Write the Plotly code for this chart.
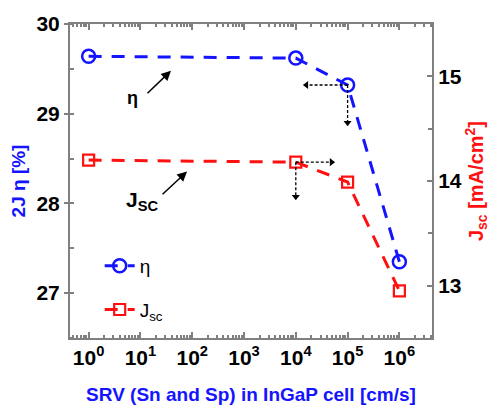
import plotly.graph_objects as go

srv = [1, 1e4, 1e5, 1e6]
eta = [29.64, 29.62, 29.32, 27.35]
jsc = [14.20, 14.18, 13.99, 12.95]
x_tickvals = [1, 10, 100, 1e3, 1e4, 1e5, 1e6]
x_ticktext = ["10<sup>0</sup>", "10<sup>1</sup>", "10<sup>2</sup>", "10<sup>3</sup>",
              "10<sup>4</sup>", "10<sup>5</sup>", "10<sup>6</sup>"]

BLUE = "#1414ff"
RED = "#ff1010"
GRAY = "#808080"
FONT = "Liberation Sans"

fig = go.Figure()
fig.add_trace(go.Scatter(x=srv, y=eta, mode="lines+markers", name="η",
                         legendgroup="a",
                         line=dict(color=BLUE, width=3, dash="13px,10px"),
                         marker=dict(symbol="circle-open", size=13, color=BLUE, line=dict(width=2.5))))
fig.add_trace(go.Scatter(x=srv, y=jsc, mode="lines+markers", name="J<sub>sc</sub>",
                         legendgroup="b", yaxis="y2",
                         line=dict(color=RED, width=3, dash="13px,10px"),
                         marker=dict(symbol="square-open", size=11, color=RED, line=dict(width=2.2))))

# dotted guide arrows
guide = dict(color="black", width=1.3, dash="3px,2px")
fig.add_trace(go.Scatter(x=[srv[2], 1.6e4], y=[eta[2], eta[2]], mode="lines", line=guide, showlegend=False))
fig.add_trace(go.Scatter(x=[srv[2], srv[2]], y=[eta[2], 28.9], mode="lines", line=guide, showlegend=False))
fig.add_trace(go.Scatter(x=[srv[1], 4.9e4], y=[jsc[1], jsc[1]], mode="lines", line=guide, showlegend=False, yaxis="y2"))
fig.add_trace(go.Scatter(x=[srv[1], srv[1]], y=[jsc[1], 13.85], mode="lines", line=guide, showlegend=False, yaxis="y2"))
fig.add_trace(go.Scatter(x=[1.6e4], y=[eta[2]], mode="markers", showlegend=False,
                         marker=dict(symbol="triangle-left", size=7, color="black")))
fig.add_trace(go.Scatter(x=[srv[2]], y=[28.9], mode="markers", showlegend=False,
                         marker=dict(symbol="triangle-down", size=7, color="black")))
fig.add_trace(go.Scatter(x=[4.9e4], y=[jsc[1]], mode="markers", showlegend=False, yaxis="y2",
                         marker=dict(symbol="triangle-right", size=7, color="black")))
fig.add_trace(go.Scatter(x=[srv[1]], y=[13.85], mode="markers", showlegend=False, yaxis="y2",
                         marker=dict(symbol="triangle-down", size=7, color="black")))

annotations = [
    dict(x=1.59, y=29.48, xref="x", yref="y", ax=-25, ay=24, text="", showarrow=True,
         arrowhead=2, arrowsize=1.3, arrowwidth=1.5, arrowcolor="black"),
    dict(x=1.90, y=14.09, xref="x", yref="y2", ax=-26, ay=24, text="", showarrow=True,
         arrowhead=2, arrowsize=1.3, arrowwidth=1.5, arrowcolor="black"),
    dict(x=0.84, y=29.17, xref="x", yref="y", text="<b>η</b>", showarrow=False,
         font=dict(family=FONT, size=18, color="black")),
    dict(x=1.03, y=13.81, xref="x", yref="y2", text="<b>J<sub>SC</sub></b>", showarrow=False,
         font=dict(family=FONT, size=21, color="black")),
]

axis_common = dict(showline=True, linecolor=GRAY, linewidth=2, showgrid=False, zeroline=False,
                   tickcolor=GRAY, tickwidth=1.5,
                   tickfont=dict(family=FONT, size=21, color="black", weight="bold"))

fig.update_layout(
    width=492, height=414,
    margin=dict(l=70, r=57, t=20, b=70),
    paper_bgcolor="white", plot_bgcolor="white",
    font=dict(family=FONT),
    showlegend=True,
    legend=dict(x=0.082, y=0.29, xanchor="left", yanchor="top", bgcolor="rgba(0,0,0,0)",
                font=dict(family=FONT, size=19, color="black"), tracegroupgap=16),
    xaxis=dict(type="log", range=[-0.36, 6.63], tickvals=x_tickvals, ticktext=x_ticktext,
               ticks="inside", ticklen=6, mirror="ticks",
               minor=dict(ticks="inside", ticklen=3, tickcolor=GRAY,
                          tickvals=[m * 10 ** e for e in range(-1, 7) for m in range(2, 10)]),
               title=dict(text="<b>SRV (Sn and Sp) in InGaP cell [cm/s]</b>",
                          font=dict(family=FONT, size=19, color=BLUE), standoff=19),
               **axis_common),
    yaxis=dict(range=[26.5, 30], dtick=1, ticks="outside", ticklen=4,
               minor=dict(dtick=0.5, ticks="inside", ticklen=4, tickcolor=GRAY),
               title=dict(text="<b>2J η [%]</b>", font=dict(family=FONT, size=19, color=BLUE), standoff=6),
               **axis_common),
    yaxis2=dict(range=[12.5, 15.5], dtick=1, overlaying="y", side="right", ticks="inside", ticklen=5,
                minor=dict(dtick=0.5, ticks="inside", ticklen=4, tickcolor=GRAY),
                title=dict(text="<b>J<sub>sc</sub> [mA/cm<sup>2</sup>]</b>",
                           font=dict(family=FONT, size=20, color=RED), standoff=4),
                **axis_common),
    annotations=annotations,
)

fig.write_html("out.html")
